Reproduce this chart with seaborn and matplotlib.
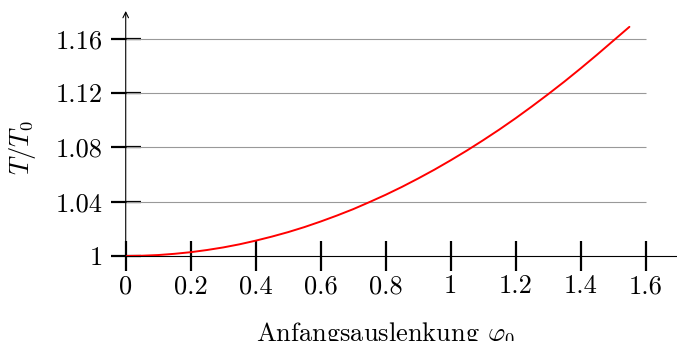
import seaborn as sns
import matplotlib.pyplot as plt

# amplitude phi0 (rad) and period ratio T/T0
phi0 = [0.0, 0.05, 0.1, 0.15, 0.2, 0.25, 0.3, 0.35, 0.4, 0.45, 0.5,
        0.55, 0.6, 0.65, 0.7, 0.75, 0.8, 0.85, 0.9, 0.95, 1.0,
        1.05, 1.1, 1.15, 1.2, 1.25, 1.3, 1.35, 1.4, 1.45, 1.5, 1.55]
ratio = [1.0, 1.0002, 1.0007, 1.0016, 1.0028, 1.0044, 1.0063, 1.0086,
         1.0113, 1.0143, 1.0176, 1.0213, 1.0254, 1.0298, 1.0345, 1.0397,
         1.0451, 1.0509, 1.0571, 1.0636, 1.0705, 1.0777, 1.0853, 1.0932,
         1.1015, 1.1102, 1.1192, 1.1285, 1.1382, 1.1482, 1.1585, 1.1688]

x_ticks = [0, 0.2, 0.4, 0.6, 0.8, 1.0, 1.2, 1.4, 1.6]
x_tick_labels = ['0', '0.2', '0.4', '0.6', '0.8', '1', '1.2', '1.4', '1.6']
y_ticks = [1.0, 1.04, 1.08, 1.12, 1.16]
y_tick_labels = ['1', '1.04', '1.08', '1.12', '1.16']

sns.set_style('white')
plt.rcParams['font.family'] = ['cmr10', 'DejaVu Serif']
plt.rcParams['mathtext.fontset'] = 'cm'
plt.rcParams['axes.unicode_minus'] = False
plt.rcParams['text.color'] = 'black'
plt.rcParams['axes.labelcolor'] = 'black'
plt.rcParams['xtick.labelcolor'] = 'black'
plt.rcParams['ytick.labelcolor'] = 'black'

fig = plt.figure(figsize=(6.77, 3.41), dpi=100)
ax = fig.add_axes([0.1857, 0.2493, 0.816, 0.7185])

# horizontal grid lines only over the ticked range
ax.hlines(y_ticks[1:], 0, 1.6, color='#999999', lw=0.8, zorder=1)

sns.lineplot(x=phi0, y=ratio, color='red', lw=1.4, ax=ax, zorder=3)

ax.set_xlim(0, 1.70)
ax.set_ylim(1.0, 1.1805)

for side in ['top', 'right', 'left']:
    ax.spines[side].set_visible(False)
ax.spines['bottom'].set_linewidth(0.8)
ax.spines['bottom'].set_color('black')

# y axis with an open arrow head
ax.annotate('', xy=(0, 1.1805), xytext=(0, 1.0),
            xycoords='data', annotation_clip=False,
            arrowprops=dict(arrowstyle='->', lw=0.8, color='black',
                            shrinkA=0, shrinkB=0))

ax.set_xticks(x_ticks)
ax.set_xticklabels(x_tick_labels)
ax.set_yticks(y_ticks)
ax.set_yticklabels(y_tick_labels)
ax.tick_params(axis='both', direction='inout', length=21, width=1.6,
               color='black', labelsize=19, left=True, bottom=True)
ax.tick_params(axis='x', pad=3)
ax.tick_params(axis='y', pad=6)

ax.set_xlabel(r'Anfangsauslenkung $\varphi_0$', fontsize=19)
ax.xaxis.set_label_coords(0.8 / 1.70, -0.26)
ax.set_ylabel(r'$T/T_0$', fontsize=19)
ax.yaxis.set_label_coords(-0.158, 0.44)

fig.savefig('out.png', dpi=100)
